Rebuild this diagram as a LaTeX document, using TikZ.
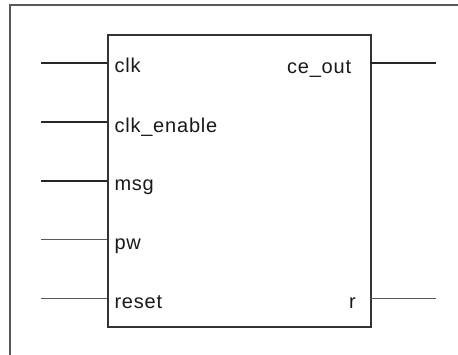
\documentclass[tikz,border=0pt]{standalone}
\usepackage{fontspec}
\setmainfont{Liberation Sans}[LetterSpace=4]
\begin{document}
\begin{tikzpicture}[x=1pt,y=-1pt,
  frame/.style={draw=black!65,line width=1.6pt},
  blockbox/.style={draw=black!80,line width=2pt},
  wirethick/.style={draw=black!85,line width=2pt},
  wirethin/.style={draw=black!65,line width=1.6pt},
  portin/.style={anchor=base west,inner sep=0pt,font=\fontsize{20}{22}\selectfont,text=black!90},
  portout/.style={anchor=base east,inner sep=0pt,font=\fontsize{20}{22}\selectfont,text=black!90}]
\useasboundingbox (0,0) rectangle (458,355);
\fill[white] (0,0) rectangle (458,355);
% outer frame (open to the right and bottom)
\draw[frame] (10,355) -- (10,5) -- (458,5);
% block
\node[blockbox,minimum width=263pt,minimum height=292pt,inner sep=0pt,anchor=north west] (blk) at (107.3,34.3) {};
% port anchors on the block edges
\coordinate (pclk) at (107.3,63);
\coordinate (pen) at (107.3,122.3);
\coordinate (pmsg) at (107.3,181);
\coordinate (ppw) at (107.3,239.5);
\coordinate (prst) at (107.3,298.7);
\coordinate (pce) at (370.3,63);
\coordinate (pr) at (370.3,298.7);
% free wire ends
\coordinate (wclk) at (41.3,63);
\coordinate (wen) at (41.3,122.3);
\coordinate (wmsg) at (41.3,181);
\coordinate (wpw) at (41.3,239.5);
\coordinate (wrst) at (41.3,298.7);
\coordinate (wce) at (436,63);
\coordinate (wr) at (436,298.7);
% wires
\draw[wirethick] (wclk) -- (pclk);
\draw[wirethick] (wen) -- (pen);
\draw[wirethick] (wmsg) -- (pmsg);
\draw[wirethin] (wpw) -- (ppw);
\draw[wirethin] (wrst) -- (prst);
\draw[wirethick] (pce) -- (wce);
\draw[wirethin] (pr) -- (wr);
% port labels
\node[portin] (lclk) at (114.3,73) {clk};
\node[portin] (len) at (114.3,132.3) {clk\_enable};
\node[portin] (lmsg) at (114.3,191) {msg};
\node[portin] (lpw) at (114.3,249.5) {pw};
\node[portin] (lrst) at (114.3,308.7) {reset};
\node[portout] (lce) at (351.3,73.3) {ce\_out};
\node[portout] (lr) at (356,308.7) {r};
\end{tikzpicture}
\end{document}
